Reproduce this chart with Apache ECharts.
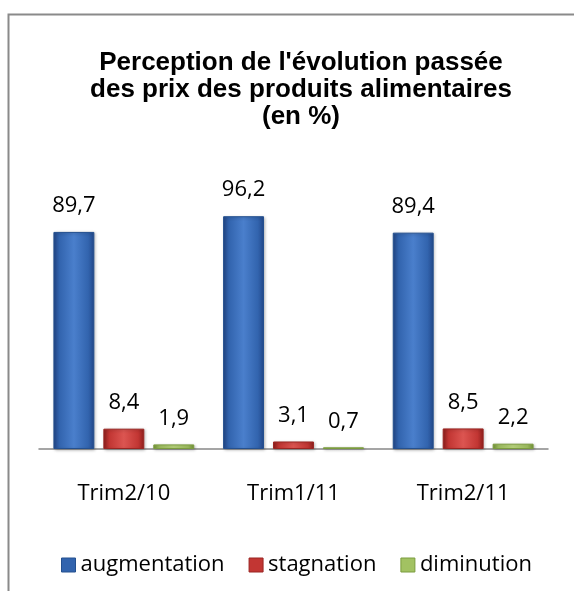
<!DOCTYPE html>
<html>
<head>
<meta charset="utf-8">
<script src="https://cdn.jsdelivr.net/npm/echarts@6/dist/echarts.min.js"></script>
<style>
html,body{margin:0;padding:0;background:#fff;}
#chart{width:574px;height:591px;}
</style>
</head>
<body>
<div id="chart"></div>
<script>
var titleText = "Perception de l'évolution passée\ndes prix des produits alimentaires\n(en %)";
var categories = ["Trim2/10", "Trim1/11", "Trim2/11"];
var seriesNames = ["augmentation", "stagnation", "diminution"];
var augmentation = [89.7, 96.2, 89.4];
var stagnation = [8.4, 3.1, 8.5];
var diminution = [1.9, 0.7, 2.2];

var palettes = [
  {edge: "#23488a", mid: "#3264ae", light: "#4a7fcc", border: "#24508f"},
  {edge: "#8f1f1d", mid: "#c23633", light: "#dc5551", border: "#9a2522"},
  {edge: "#76963a", mid: "#a2c262", light: "#bcd87f", border: "#7b9c3e"}
];
function barColor(p) {
  return new echarts.graphic.LinearGradient(0, 0, 1, 0, [
    {offset: 0, color: p.edge},
    {offset: 0.15, color: p.mid},
    {offset: 0.5, color: p.light},
    {offset: 0.85, color: p.mid},
    {offset: 1, color: p.edge}
  ]);
}
var dataSets = [augmentation, stagnation, diminution];
var fmt = function (v) { return String(v.value).replace('.', ','); };

var series = seriesNames.map(function (name, i) {
  return {
    name: name,
    type: 'bar',
    data: dataSets[i],
    barGap: '22%',
    barCategoryGap: '17%',
    itemStyle: {
      color: barColor(palettes[i]),
      borderColor: palettes[i].border,
      borderWidth: 1,
      shadowColor: 'rgba(0,0,0,0.25)',
      shadowBlur: 3,
      shadowOffsetX: 1,
      shadowOffsetY: 1
    },
    label: {
      show: true,
      position: 'top',
      distance: 15,
      formatter: fmt,
      fontFamily: 'Open Sans',
      fontSize: 22,
      color: '#000'
    }
  };
});

var chart = echarts.init(document.getElementById('chart'));
chart.setOption({
  animation: false,
  backgroundColor: '#fff',
  graphic: [{
    type: 'rect',
    shape: {x: 8.5, y: 14.5, width: 620, height: 620},
    style: {fill: 'none', stroke: '#8a8a8a', lineWidth: 2},
    silent: true,
    z: -1
  }],
  title: {
    text: titleText,
    left: 296,
    textAlign: 'center',
    top: 44,
    textStyle: {
      fontFamily: 'Liberation Sans',
      fontWeight: 'bold',
      fontSize: 26,
      lineHeight: 27,
      color: '#000'
    }
  },
  legend: {
    data: seriesNames.map(function (n, i) {
      return {name: n, itemStyle: {color: palettes[i].mid, borderColor: palettes[i].border, borderWidth: 1}};
    }),
    left: 56,
    top: 549,
    icon: 'rect',
    itemWidth: 14,
    itemHeight: 14,
    itemGap: 24,
    textStyle: {fontFamily: 'Open Sans', fontSize: 22, color: '#000', padding: [0, 0, 0, 0]}
  },
  grid: {left: 39, right: 26, top: 207, bottom: 142, containLabel: false},
  xAxis: {
    type: 'category',
    data: categories,
    axisLine: {lineStyle: {color: '#888', width: 1.5}},
    axisTick: {show: false},
    axisLabel: {fontFamily: 'Open Sans', fontSize: 22, color: '#000', margin: 34}
  },
  yAxis: {
    type: 'value',
    min: 0,
    max: 100,
    show: false,
    splitLine: {show: false}
  },
  series: series
});
</script>
</body>
</html>
